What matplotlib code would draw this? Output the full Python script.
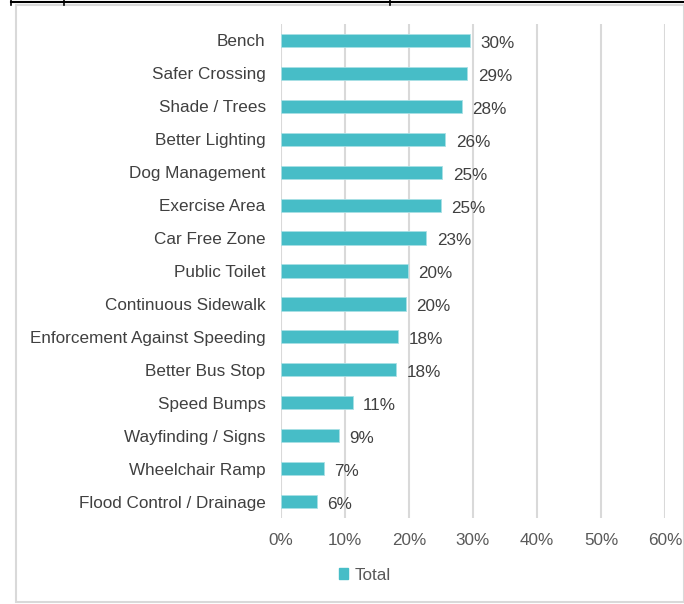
import matplotlib
matplotlib.use("Agg")
import matplotlib.pyplot as plt
from matplotlib.lines import Line2D
from matplotlib.patches import Rectangle

categories = ["Bench", "Safer Crossing", "Shade / Trees", "Better Lighting", "Dog Management",
              "Exercise Area", "Car Free Zone", "Public Toilet", "Continuous Sidewalk",
              "Enforcement Against Speeding", "Better Bus Stop", "Speed Bumps",
              "Wayfinding / Signs", "Wheelchair Ramp", "Flood Control / Drainage"]
values = [29.5, 29.1, 28.3, 25.7, 25.2, 25.0, 22.7, 19.8, 19.5, 18.3, 18.0, 11.2, 9.1, 6.7, 5.6]
value_labels = ["30%", "29%", "28%", "26%", "25%", "25%", "23%", "20%", "20%", "18%", "18%",
                "11%", "9%", "7%", "6%"]
xticks = [0, 10, 20, 30, 40, 50, 60]
series_name = "Total"

plt.rcParams['font.family'] = ['Liberation Sans', 'DejaVu Sans']
FS = 12.3
W, H = 684, 604
fig = plt.figure(figsize=(W/100, H/100), dpi=100)

# frame / border
fig.patches.append(Rectangle((16/W, 2/H), (W-16)/W, (H-7)/H, transform=fig.transFigure,
                             fill=False, edgecolor='#D9D9D9', linewidth=1.5))
fig.add_artist(Line2D([11/W, 1], [1-1.5/H, 1-1.5/H], transform=fig.transFigure, color='black', linewidth=1.5))
for xp in [11, 64, 390]:
    fig.add_artist(Line2D([xp/W, xp/W], [1-5/H, 1], transform=fig.transFigure, color='black', linewidth=1.2))

ax = fig.add_axes([281/W, 1-518/H, (665-281)/W, (518-24)/H])
y = list(range(len(categories)))
bars = ax.barh(y, values, height=0.4, color='#47BDC7', edgecolor='#A9E0E5', linewidth=0.6, zorder=3,
               label=series_name)
ax.set_ylim(len(categories)-0.5, -0.5)
ax.set_xlim(0, 60)
ax.set_yticks(y)
ax.set_yticklabels(categories, fontsize=FS, color='#404040')
ax.set_xticks(xticks)
ax.set_xticklabels([f"{t}%" for t in xticks], fontsize=FS, color='#595959')
ax.tick_params(axis='both', length=0)
ax.tick_params(axis='y', pad=11)
ax.tick_params(axis='x', pad=11)
for s in ax.spines.values():
    s.set_visible(False)
ax.grid(axis='x', color='#D9D9D9', linewidth=1.5, zorder=0)
ax.set_axisbelow(True)
for b, lab in zip(bars, value_labels):
    ax.annotate(lab, (b.get_width(), b.get_y() + b.get_height()/2), xytext=(7.5, -1),
                textcoords='offset points', va='center_baseline', ha='left', fontsize=FS, color='#404040')

fig.legend(handles=[Rectangle((0, 0), 1, 1, color='#47BDC7')], labels=[series_name],
           loc='center', bbox_to_anchor=(365/W, 1-575/H), frameon=False, fontsize=FS,
           handlelength=0.55, handleheight=0.55, handletextpad=0.4, labelcolor='#595959')

fig.savefig("out.png", dpi=100)
